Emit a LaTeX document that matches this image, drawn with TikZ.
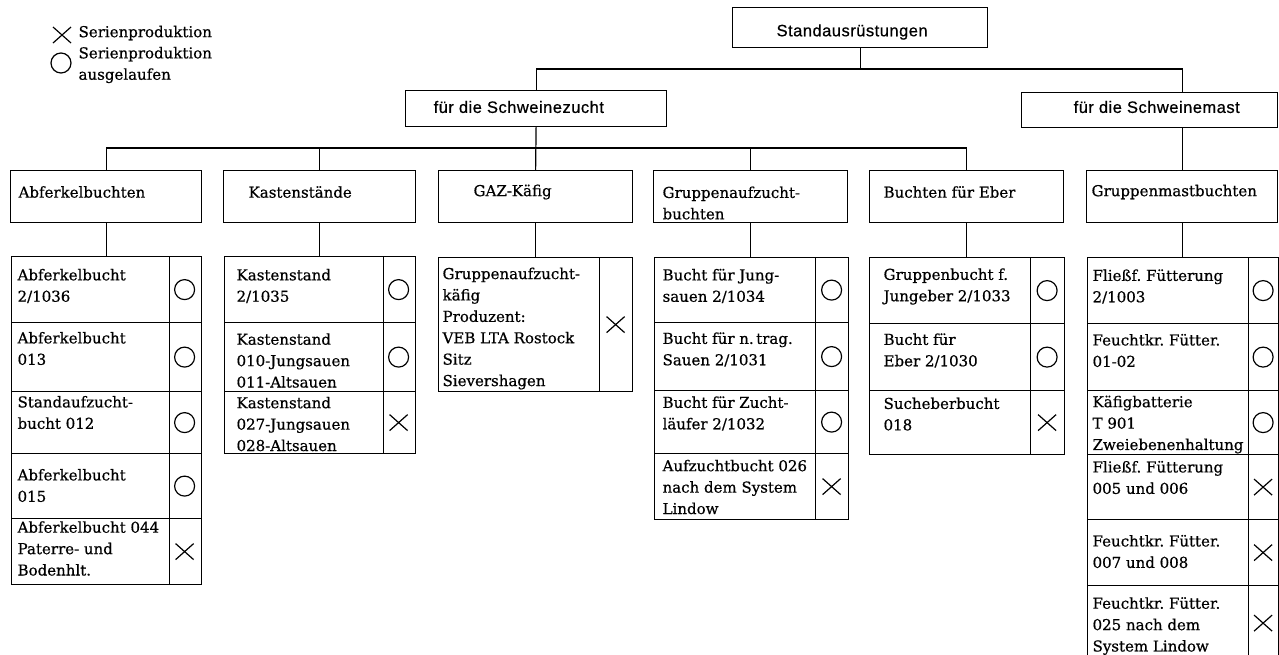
\documentclass[tikz,border=0pt]{standalone}
\usepackage{fontspec}
\setmainfont[FakeBold=0.6]{DejaVu Serif}
\newfontfamily\kopffont[LetterSpace=3,FakeBold=0.6]{Liberation Sans}
\newcommand{\zeilenfont}{\fontsize{15}{21.4}\selectfont\frenchspacing}
\newcommand{\kopfschrift}{\kopffont\fontsize{16.5}{20}\selectfont}

\begin{document}
\begin{tikzpicture}[
    x=1pt, y=-1pt, line width=1.2pt,
    kopf/.style={draw, anchor=north west, inner sep=0pt},
    kopftext/.style={anchor=west, inner sep=0pt, font=\kopfschrift},
    gruppe/.style={draw, anchor=north west, inner sep=0pt, minimum height=52},
    zeile/.style={draw, anchor=north west, inner sep=0pt},
    beschr/.style={anchor=west, align=left, inner sep=0pt, font=\zeilenfont},
    auslauf/.style={path picture={\draw ([xshift=-#1]path picture bounding box.east) circle (10pt);}},
    auslauf/.default=17,
    serie/.style={path picture={\coordinate (m) at ([xshift=-#1]path picture bounding box.east);
        \draw ([shift={(-9pt,-8pt)}]m) -- ([shift={(9pt,8pt)}]m) ([shift={(-9pt,8pt)}]m) -- ([shift={(9pt,-8pt)}]m);}},
    serie/.default=17
]
\useasboundingbox (0,0) rectangle (1279,654);

% Legende
\node[serie=11, minimum size=22, inner sep=0pt] (lx) at (62,35) {};
\node[auslauf=11, minimum size=22, inner sep=0pt] (lo) at (61,63) {};
\node[beschr] (lxt) at (78,33) {Serienproduktion};
\node[beschr] (lot) at (78,65) {Serienproduktion\\ausgelaufen};

% Kopf
\node[kopf, minimum width=255, minimum height=40] (std) at (732,7) {};
\node[kopftext] (stdt) at (776,32) {Standausrüstungen};
\node[kopf, minimum width=261, minimum height=36] (zucht) at (405,90) {};
\node[kopftext] (zuchtt) at (433,107) {für die Schweinezucht};
\node[kopf, minimum width=256, minimum height=35] (mast) at (1021,92) {};
\node[kopftext] (mastt) at (1073,107) {für die Schweinemast};

% Gruppen
\node[gruppe, minimum width=191] (ab) at (10,170) {};
\node[beschr] (abt) at (18,192) {Abferkelbuchten};
\node[gruppe, minimum width=192] (ks) at (223,170) {};
\node[beschr] (kst) at (248,192) {Kastenstände};
\node[gruppe, minimum width=194] (gaz) at (438,170) {};
\node[beschr] (gazt) at (473,192) {GAZ-Käfig};
\node[gruppe, minimum width=194] (ga) at (653,170) {};
\node[beschr] (gat) at (662,203) {Gruppenaufzucht-\\buchten};
\node[gruppe, minimum width=194] (eb) at (869,170) {};
\node[beschr] (ebt) at (883,192) {Buchten für Eber};
\node[gruppe, minimum width=191] (gm) at (1086,170) {};
\node[beschr] (gmt) at (1091,192) {Gruppenmastbuchten};

% Abferkelbuchten
\node[zeile, minimum width=190, minimum height=66, auslauf] (ab1) at (11,256) {};
\node[beschr] (ab1t) at (17,286) {Abferkelbucht\\2/1036};
\node[zeile, minimum width=190, minimum height=69, auslauf] (ab2) at (11,322) {};
\node[beschr] (ab2t) at (17,348.5) {Abferkelbucht\\013};
\node[zeile, minimum width=190, minimum height=62, auslauf] (ab3) at (11,391) {};
\node[beschr] (ab3t) at (17,412.5) {Standaufzucht-\\bucht 012};
\node[zeile, minimum width=190, minimum height=65, auslauf] (ab4) at (11,453) {};
\node[beschr] (ab4t) at (17,485.5) {Abferkelbucht\\015};
\node[zeile, minimum width=190, minimum height=66, serie] (ab5) at (11,518) {};
\node[beschr] (ab5t) at (17,548.5) {Abferkelbucht 044\\Paterre- und\\Bodenhlt.};
\draw ([xshift=-33]ab1.north east) -- ([xshift=-33]ab5.south east);

% Kastenstaende
\node[zeile, minimum width=191, minimum height=66, auslauf] (ks1) at (224,256) {};
\node[beschr] (ks1t) at (236,286) {Kastenstand\\2/1035};
\node[zeile, minimum width=191, minimum height=69, auslauf] (ks2) at (224,322) {};
\node[beschr] (ks2t) at (236,360.5) {Kastenstand\\010-Jungsauen\\011-Altsauen};
\node[zeile, minimum width=191, minimum height=62, serie] (ks3) at (224,391) {};
\node[beschr] (ks3t) at (236,424) {Kastenstand\\027-Jungsauen\\028-Altsauen};
\draw ([xshift=-33]ks1.north east) -- ([xshift=-33]ks3.south east);

% GAZ-Kaefig
\node[zeile, minimum width=194, minimum height=134, serie] (gaz1) at (438,257) {};
\node[beschr] (gaz1t) at (442,328.5) {Gruppenaufzucht-\\käfig\\Produzent:\\VEB LTA Rostock\\Sitz\\Sievershagen};
\draw ([xshift=-34]gaz1.north east) -- ([xshift=-34]gaz1.south east);

% Gruppenaufzuchtbuchten
\node[zeile, minimum width=194, minimum height=65, auslauf] (ga1) at (654,257) {};
\node[beschr] (ga1t) at (662,286) {Bucht für Jung-\\sauen 2/1034};
\node[zeile, minimum width=194, minimum height=68, auslauf] (ga2) at (654,322) {};
\node[beschr] (ga2t) at (662,349.5) {Bucht für n.\,trag.\\Sauen 2/1031};
\node[zeile, minimum width=194, minimum height=63, auslauf] (ga3) at (654,390) {};
\node[beschr] (ga3t) at (662,413.5) {Bucht für Zucht-\\läufer 2/1032};
\node[zeile, minimum width=194, minimum height=66, serie] (ga4) at (654,453) {};
\node[beschr] (ga4t) at (662,487) {Aufzuchtbucht 026\\nach dem System\\Lindow};
\draw ([xshift=-34]ga1.north east) -- ([xshift=-34]ga4.south east);

% Buchten fuer Eber
\node[zeile, minimum width=195, minimum height=66, auslauf=17.5] (eb1) at (869,257) {};
\node[beschr] (eb1t) at (883,286.5) {Gruppenbucht f.\\Jungeber 2/1033};
\node[zeile, minimum width=195, minimum height=67, auslauf=17.5] (eb2) at (869,323) {};
\node[beschr] (eb2t) at (883,350.5) {Bucht für\\Eber 2/1030};
\node[zeile, minimum width=195, minimum height=64, serie=17.5] (eb3) at (869,390) {};
\node[beschr] (eb3t) at (883,414) {Sucheberbucht\\018};
\draw ([xshift=-35]eb1.north east) -- ([xshift=-35]eb3.south east);

% Gruppenmastbuchten
\node[zeile, minimum width=191, minimum height=66, auslauf=15.5] (gm1) at (1087,257) {};
\node[beschr] (gm1t) at (1092,286.5) {Fließf. Fütterung\\2/1003};
\node[zeile, minimum width=191, minimum height=67, auslauf=15.5] (gm2) at (1087,323) {};
\node[beschr] (gm2t) at (1092,350.5) {Feuchtkr. Fütter.\\01-02};
\node[zeile, minimum width=191, minimum height=64, auslauf=15.5] (gm3) at (1087,390) {};
\node[beschr] (gm3t) at (1092,424.5) {Käfigbatterie\\T 901\\Zweiebenenhaltung};
\node[zeile, minimum width=191, minimum height=65, serie=15.5] (gm4) at (1087,454) {};
\node[beschr] (gm4t) at (1092,477.5) {Fließf. Fütterung\\005 und 006};
\node[zeile, minimum width=191, minimum height=66, serie=15.5] (gm5) at (1087,519) {};
\node[beschr] (gm5t) at (1092,551.5) {Feuchtkr. Fütter.\\007 und 008};
\node[zeile, minimum width=191, minimum height=75, serie=15.5] (gm6) at (1087,585) {};
\node[beschr] (gm6t) at (1092,626) {Feuchtkr. Fütter.\\025 nach dem\\System Lindow};
\draw ([xshift=-31]gm1.north east) -- ([xshift=-31]gm6.south east);

% Verbindungen
\coordinate (bus1) at (0,69);
\coordinate (bus2) at (0,148);
\draw (std.south) -- (std.south |- bus1);
\draw (zucht.north) |- (bus1 -| gm.north) -- (mast.north -| gm.north);
\draw (mast.south -| gm.north) -- (gm.north);
\draw (zucht.south) -- (gaz.north);
\draw (ab.north) |- (bus2 -| eb.north) -- (eb.north);
\draw (ks.north) -- (ks.north |- bus2);
\draw (ga.north) -- (ga.north |- bus2);
\draw (ab.south) -- (ab.south |- ab1.north);
\draw (ks.south) -- (ks.south |- ks1.north);
\draw (gaz.south) -- (gaz.south |- gaz1.north);
\draw (ga.south) -- (ga.south |- ga1.north);
\draw (eb.south) -- (eb.south |- eb1.north);
\draw (gm.south) -- (gm.south |- gm1.north);

\end{tikzpicture}
\end{document}
